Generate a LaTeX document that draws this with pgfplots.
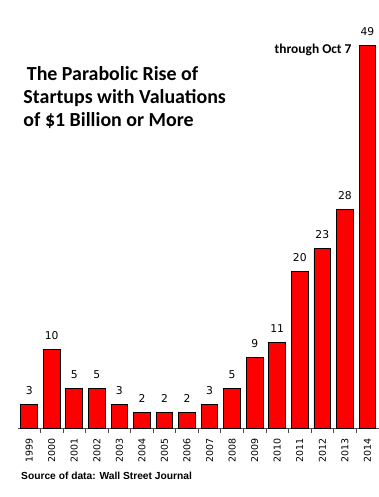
\documentclass[border=0pt]{standalone}
\usepackage{pgfplots}
\pgfplotsset{compat=1.18}
\usepackage{fontspec}
\setmainfont{Carlito}
\newfontfamily\dejavu{DejaVu Sans}
\newfontfamily\libsans{Liberation Sans}
\definecolor{barred}{RGB}{255,0,0}
\begin{document}
\begin{tikzpicture}[x=1bp,y=1bp]
\path[use as bounding box] (0,0) rectangle (378,497);
\begin{axis}[
  at={(17.9bp,69bp)}, anchor=south west,
  scale only axis, width=360.8bp, height=428bp,
  xmin=-0.5, xmax=15.5, ymin=0, ymax=54.76,
  axis x line=bottom, axis y line=none,
  axis line style={-, draw=gray!60!black, line width=0.8pt},
  ybar, bar width=16.7bp,
  /pgf/number format/assume math mode=true,
  xtick={0,...,15},
  xticklabels={1999,2000,2001,2002,2003,2004,2005,2006,2007,2008,2009,2010,2011,2012,2013,2014},
  major tick length=0pt,
  xticklabel style={yshift=-10bp, rotate=90, anchor=east, inner sep=0pt,
    font=\dejavu\fontsize{9.5}{10}\selectfont},
  extra x ticks={0.5,1.5,...,14.5},
  extra x tick labels={},
  extra x tick style={major tick length=5bp, tick align=outside,
    tick style={draw=gray!60!black, line width=0.8pt}},
  nodes near coords,
  nodes near coords style={anchor=base, inner sep=0pt, yshift=10bp,
    font=\dejavu\fontsize{10.8}{12}\selectfont},
  clip=false,
]
\addplot[fill=barred, draw=black, line width=0.9pt] coordinates {
(0,3) (1,10) (2,5) (3,5) (4,3) (5,2) (6,2) (7,2) (8,3) (9,5) (10,9) (11,11) (12,20) (13,23) (14,28) (15,49)
};
\end{axis}
\node[anchor=base west, inner sep=0pt, font=\bfseries\fontsize{20}{24}\selectfont] at (26.7,416) {The Parabolic Rise of};
\node[anchor=base west, inner sep=0pt, font=\bfseries\fontsize{20}{24}\selectfont] at (23.3,393.7) {Startups with Valuations};
\node[anchor=base west, inner sep=0pt, font=\bfseries\fontsize{20}{24}\selectfont] at (23.3,370.3) {of \$1 Billion or More};
\node[anchor=base east, inner sep=0pt, font=\bfseries\fontsize{13.5}{16}\selectfont] at (351.7,443) {through Oct 7};
\node[anchor=base west, inner sep=0pt] at (21,17.7) {\resizebox{170.7bp}{!}{\libsans\bfseries\fontsize{10}{12}\selectfont Source of data: Wall Street Journal}};
\end{tikzpicture}
\end{document}
